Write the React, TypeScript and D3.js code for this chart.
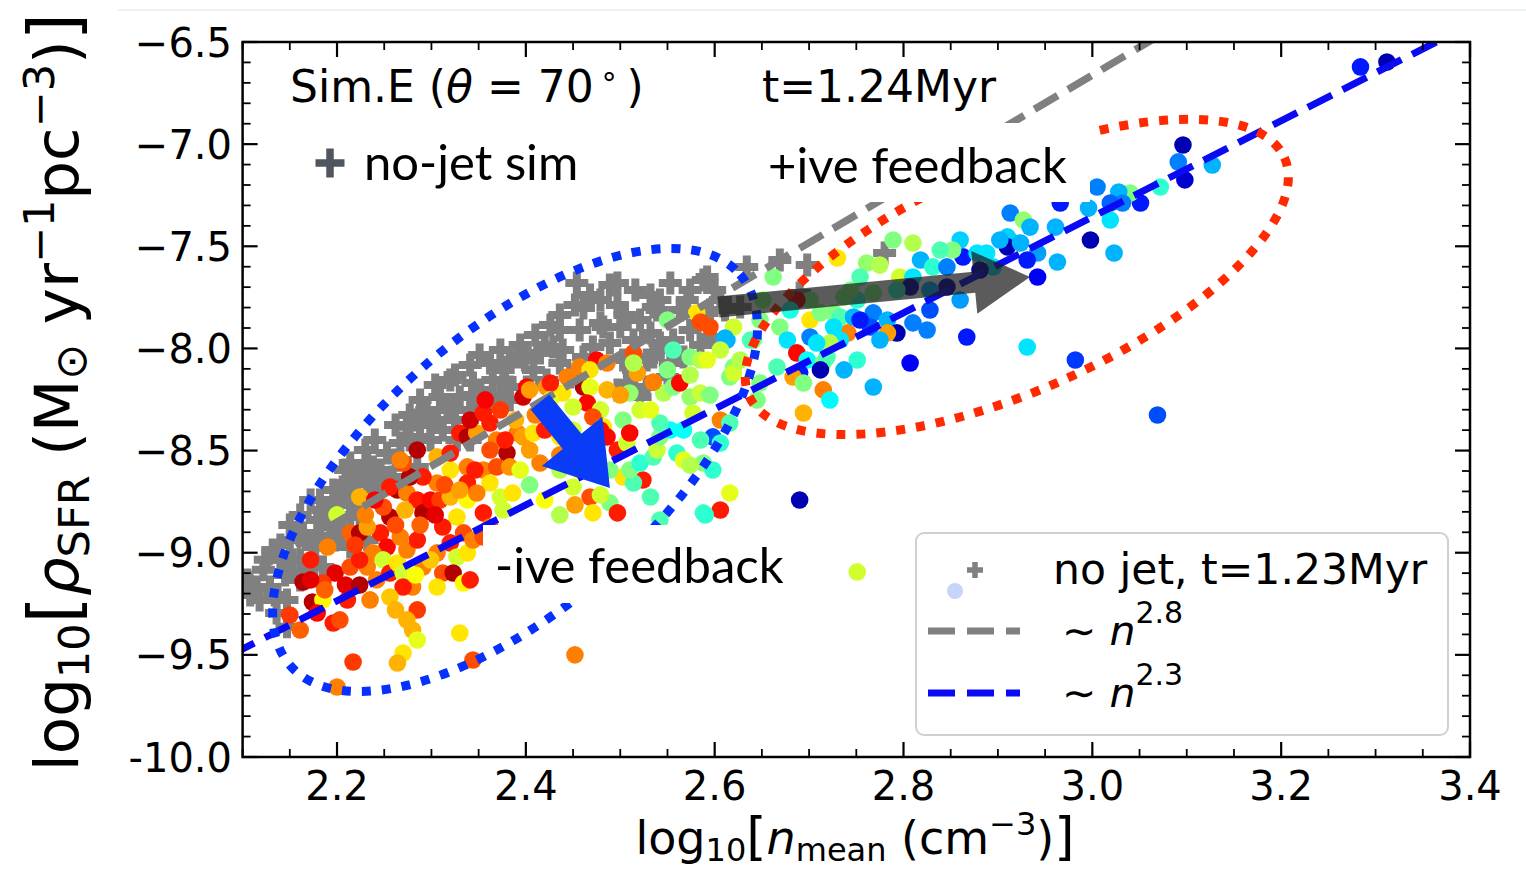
import React from "react";
import * as d3 from "d3";

const W = 1526;
const H = 872;

const xDomain = [2.1, 3.4];
const yDomain = [-10, -6.5];
const xTicks = [2.2, 2.4, 2.6, 2.8, 3.0, 3.2, 3.4];
const xTickLabels = ["2.2", "2.4", "2.6", "2.8", "3.0", "3.2", "3.4"];
const yTicks = [-10, -9.5, -9, -8.5, -8, -7.5, -7, -6.5];
const yTickLabels = ["-10.0", "−9.5", "−9.0", "−8.5", "−8.0", "−7.5", "−7.0", "−6.5"];

// no-jet simulation (grey plus markers): [log n, log rho]
const noJetPoints: [number, number][] = [
  [2.454,-7.680],[2.497,-7.680],[2.553,-7.680],[2.588,-7.665],[2.461,-7.802],[2.497,-7.787],[2.535,-7.797],[2.457,-7.910],
  [2.482,-7.895],[2.500,-7.895],[2.571,-7.763],[2.592,-7.826],[2.598,-7.944],[2.471,-7.993],[2.514,-7.959],[2.532,-7.924],
  [2.556,-7.959],[2.429,-7.993],[2.415,-8.022],[2.436,-8.071],[2.461,-8.042],[2.391,-8.042],[2.362,-8.071],[2.376,-8.105],
  [2.408,-8.105],[2.457,-8.105],[2.514,-8.105],[2.535,-8.042],[2.553,-8.071],[2.567,-8.042],[2.344,-8.169],[2.365,-8.154],
  [2.330,-8.238],[2.351,-8.203],[2.309,-8.238],[2.317,-8.301],[2.295,-8.301],[2.285,-8.350],[2.312,-8.399],[2.267,-8.463],
  [2.288,-8.433],[2.507,-8.169],[2.528,-8.189],[2.550,-8.140],[2.497,-8.203],[2.521,-8.238],[2.253,-8.512],[2.232,-8.561],
  [2.246,-8.595],[2.224,-8.629],[2.211,-8.659],[2.196,-8.693],[2.203,-8.756],[2.185,-8.791],[2.238,-8.659],[2.256,-8.659],
  [2.221,-8.727],[2.179,-8.840],[2.401,-8.189],[2.383,-8.189],[2.422,-8.154],[2.447,-8.140],[2.291,-8.316],[2.306,-8.350],
  [2.320,-8.287],[2.238,-8.580],[2.214,-8.561],[2.206,-8.678],[2.214,-8.742],[2.235,-8.708],[2.193,-8.805],[2.164,-8.903],
  [2.150,-8.938],[2.132,-8.987],[2.140,-9.035],[2.122,-9.084],[2.129,-9.168],[2.153,-9.035],[2.175,-8.972],[2.189,-8.952],
  [2.193,-8.874],[2.203,-8.923],[2.224,-8.825],[2.232,-8.938],[2.185,-9.070],[2.168,-9.099],[2.147,-9.231],[2.214,-8.972],
  [2.136,-9.295],[2.147,-9.363],[2.115,-9.168],[2.274,-8.384],[2.259,-8.629],[2.285,-8.580],[2.299,-8.448],[2.327,-8.448],
  [2.338,-8.350],[2.105,-9.133],[2.182,-8.742],[2.634,-7.601],[2.439,-8.008],[2.383,-8.057],[2.489,-7.973],[2.542,-7.973],
  [2.556,-8.008],[2.528,-8.057],[2.503,-8.057],[2.563,-7.812],[2.539,-7.812],[2.479,-7.875],[2.592,-7.650],[2.669,-7.567],
  [2.698,-7.592],[2.780,-7.533],[2.595,-7.812],[2.627,-7.797],[2.690,-7.729],[2.606,-7.763],[2.341,-8.301],[2.362,-8.252],
  [2.383,-8.252],[2.320,-8.154],[2.373,-8.228],[2.325,-8.350],[2.341,-8.448],[2.267,-8.546],
  [2.161,-8.815],[2.172,-8.742],[2.150,-8.864],[2.140,-8.962],[2.124,-9.035],[2.161,-9.035],[2.182,-8.938],[2.198,-8.864],
  [2.219,-8.766],[2.209,-8.595],[2.230,-8.497],[2.240,-8.448],[2.262,-8.375],[2.277,-8.326],[2.288,-8.252],[2.304,-8.179],
  [2.325,-8.130],[2.341,-8.081],[2.351,-8.032],[2.373,-8.008],[2.394,-7.983],[2.410,-7.934],[2.426,-7.885],[2.436,-7.836],
  [2.452,-7.787],[2.468,-7.738],[2.479,-7.763],[2.489,-7.689],[2.516,-7.714],[2.532,-7.738],[2.542,-7.763],[2.574,-7.714],
  [2.600,-7.714],[2.611,-7.812],[2.585,-7.983],[2.574,-7.910],[2.521,-7.861],[2.505,-7.836],[2.436,-7.910],[2.420,-7.983],
  [2.399,-8.057],[2.378,-8.154],[2.346,-8.228],[2.325,-8.301],[2.299,-8.375],[2.277,-8.448],[2.262,-8.546],[2.240,-8.693],
  [2.214,-8.815],[2.198,-8.938],[2.177,-9.035],[2.161,-9.133],[2.145,-9.109],[2.134,-9.207],[2.118,-9.231],[2.108,-9.207],
];

// jet simulation (coloured dots): [log n, log rho, colour value 0..1]
const jetPoints: [number, number, number][] = [
  [2.224,-8.727,0.70],[2.200,-8.815,0.58],[2.190,-8.972,0.75],[2.164,-9.143,0.95],[2.174,-9.241,0.95],[2.185,-9.231,0.63],
  [2.196,-9.344,0.85],[2.161,-9.378,0.78],[2.179,-9.295,0.87],[2.198,-9.099,0.90],[2.185,-9.148,0.82],[2.211,-9.231,0.85],
  [2.214,-9.070,0.80],[2.232,-9.070,0.75],[2.214,-8.903,0.78],[2.224,-8.903,0.95],[2.246,-8.903,0.85],[2.253,-8.972,0.87],
  [2.238,-9.001,0.75],[2.249,-9.035,0.58],[2.224,-9.035,0.85],[2.242,-9.133,0.75],[2.256,-9.099,0.85],[2.264,-9.050,0.65],
  [2.274,-8.987,0.75],[2.285,-8.938,0.85],[2.267,-8.923,0.75],[2.256,-8.825,0.95],[2.249,-8.776,0.80],[2.232,-8.874,0.72],
  [2.264,-8.693,0.95],[2.256,-8.678,0.85],[2.274,-8.708,0.75],[2.285,-8.742,0.85],[2.291,-8.805,0.95],[2.299,-8.742,0.87],
  [2.309,-8.742,0.82],[2.306,-8.659,0.75],[2.291,-8.629,0.85],[2.277,-8.629,0.95],[2.270,-8.561,0.80],[2.285,-8.497,0.95],
  [2.267,-8.546,0.75],[2.306,-8.531,0.70],[2.320,-8.595,0.65],[2.320,-8.512,0.85],[2.338,-8.580,0.75],[2.330,-8.414,0.85],
  [2.338,-8.433,0.95],[2.348,-8.414,0.72],[2.362,-8.365,0.85],[2.341,-8.350,0.92],[2.355,-8.316,0.85],[2.369,-8.448,0.75],
  [2.380,-8.512,0.95],[2.391,-8.414,0.75],[2.397,-8.433,0.72],[2.408,-8.414,0.65],[2.355,-8.595,0.75],[2.369,-8.580,0.80],
  [2.383,-8.580,0.73],[2.362,-8.659,0.65],[2.338,-8.659,0.85],[2.320,-8.727,0.70],[2.338,-8.742,0.63],[2.348,-8.708,0.75],
  [2.373,-8.727,0.58],[2.386,-8.708,0.65],[2.376,-8.791,0.58],[2.355,-8.805,0.85],[2.327,-8.825,0.65],[2.312,-8.874,0.85],
  [2.334,-8.903,0.80],[2.320,-8.952,0.85],[2.327,-9.021,0.58],[2.338,-9.001,0.65],[2.344,-8.938,0.75],[2.355,-8.923,0.80],
  [2.362,-8.874,0.75],[2.306,-9.001,0.75],[2.291,-9.070,0.75],[2.312,-9.099,0.80],[2.323,-9.099,0.95],[2.334,-9.148,0.63],
  [2.341,-9.133,0.85],[2.306,-9.168,0.65],[2.280,-9.168,0.75],[2.270,-9.099,0.58],[2.270,-9.168,0.85],[2.256,-9.217,0.68],
  [2.235,-9.231,0.75],[2.285,-9.280,0.82],[2.274,-9.329,0.70],[2.280,-9.378,0.70],[2.285,-9.427,0.60],[2.330,-9.393,0.65],
  [2.270,-9.491,0.65],[2.264,-9.540,0.70],[2.217,-9.535,0.82],[2.344,-9.525,0.80],[2.200,-9.657,0.75],[2.452,-9.500,0.75],
  [2.475,-8.057,0.87],[2.486,-8.071,0.75],[2.514,-8.022,0.80],[2.444,-8.140,0.75],[2.422,-8.189,0.73],[2.401,-8.189,0.87],
  [2.397,-8.238,0.92],[2.461,-8.189,0.95],[2.468,-8.189,0.60],[2.486,-8.203,0.70],[2.465,-8.267,0.87],[2.450,-8.287,0.58],
  [2.457,-8.091,0.75],[2.468,-8.105,0.65],[2.439,-8.218,0.65],[2.426,-8.169,0.85],[2.404,-8.203,0.72],[2.479,-8.301,0.58],
  [2.471,-8.336,0.80],[2.482,-8.384,0.65],[2.450,-8.399,0.58],[2.436,-8.433,0.65],[2.479,-8.399,0.87],[2.450,-8.497,0.58],
  [2.497,-8.497,0.85],[2.486,-8.433,0.87],[2.507,-8.463,0.58],[2.415,-8.561,0.75],[2.436,-8.595,0.55],[2.450,-8.678,0.58],
  [2.468,-8.727,0.80],[2.471,-8.805,0.65],[2.489,-8.756,0.50],[2.497,-8.805,0.85],[2.503,-8.629,0.65],[2.524,-8.644,0.85],
  [2.532,-8.727,0.45],[2.514,-8.659,0.45],[2.510,-8.595,0.50],[2.521,-8.561,0.42],[2.535,-8.531,0.45],[2.539,-8.497,0.57],
  [2.542,-8.433,0.50],[2.553,-8.399,0.38],[2.542,-8.365,0.45],[2.560,-8.512,0.42],[2.567,-8.546,0.60],[2.598,-8.433,0.20],
  [2.606,-8.463,0.42],[2.588,-8.561,0.50],[2.598,-8.595,0.42],[2.616,-8.708,0.60],[2.606,-8.791,0.85],[2.588,-8.805,0.43],
  [2.606,-8.350,0.75],[2.616,-8.365,0.45],[2.567,-8.399,0.38],[2.521,-8.301,0.58],[2.503,-8.350,0.50],[2.510,-8.414,0.87],
  [2.510,-8.218,0.52],[2.546,-8.218,0.55],[2.556,-8.189,0.50],[2.563,-8.169,0.87],[2.574,-8.238,0.52],[2.585,-8.218,0.57],
  [2.577,-8.316,0.58],[2.518,-8.120,0.72],[2.535,-8.164,0.75],[2.550,-8.105,0.50],[2.556,-8.008,0.45],[2.574,-8.042,0.50],
  [2.585,-8.057,0.55],[2.620,-8.091,0.50],[2.616,-8.140,0.50],[2.550,-7.861,0.50],[2.581,-7.826,0.65],[2.585,-7.871,0.80],
  [2.613,-7.959,0.30],[2.620,-7.895,0.58],[2.662,-7.650,0.50],[2.514,-8.071,0.55],[2.542,-8.840,0.45],[2.590,-8.815,0.42],
  [2.751,-9.094,0.58],[2.690,-8.742,0.05],
  [2.595,-7.895,0.80],[2.611,-7.949,0.30],[2.651,-7.763,0.50],[2.730,-7.557,0.65],[2.761,-7.582,0.52],[2.754,-7.650,0.45],
  [2.789,-7.469,0.50],[2.810,-7.484,0.55],[2.818,-7.567,0.30],[2.796,-7.650,0.58],[2.810,-7.650,0.35],[2.831,-7.601,0.42],
  [2.846,-7.601,0.25],[2.863,-7.552,0.15],[2.860,-7.469,0.33],[2.852,-7.518,0.50],[2.878,-7.533,0.35],[2.888,-7.533,0.35],
  [2.895,-7.601,0.35],[2.913,-7.337,0.25],[2.927,-7.371,0.52],[2.934,-7.406,0.30],[2.910,-7.454,0.33],[2.910,-7.503,0.05],
  [2.924,-7.484,0.30],[2.942,-7.533,0.28],[2.931,-7.567,0.15],[2.942,-7.650,0.12],[2.807,-7.699,0.05],[2.846,-7.699,0.05],
  [2.881,-7.616,0.05],[2.793,-7.714,0.42],[2.768,-7.729,0.50],[2.751,-7.763,0.42],[2.737,-7.748,0.50],[2.701,-7.763,0.50],
  [2.687,-7.763,0.90],[2.641,-7.959,0.50],[2.669,-7.895,0.50],[2.677,-7.959,0.35],[2.701,-7.861,0.65],[2.712,-7.826,0.50],
  [2.726,-7.826,0.50],[2.733,-7.846,0.45],[2.741,-7.924,0.75],[2.747,-7.846,0.30],[2.726,-7.895,0.35],[2.733,-7.959,0.35],
  [2.722,-7.973,0.55],[2.701,-7.944,0.25],[2.708,-7.973,0.35],[2.687,-8.022,0.87],[2.698,-8.057,0.38],[2.715,-8.071,0.50],
  [2.719,-8.042,0.45],[2.751,-8.057,0.42],[2.737,-8.105,0.30],[2.712,-8.105,0.05],[2.690,-8.120,0.15],[2.683,-8.140,0.72],
  [2.694,-8.169,0.50],[2.715,-8.203,0.75],[2.648,-8.169,0.50],[2.645,-8.252,0.50],[2.620,-8.120,0.58],[2.606,-8.008,0.57],
  [2.592,-8.057,0.60],[2.768,-7.826,0.25],[2.783,-7.861,0.30],[2.765,-7.895,0.20],[2.793,-7.924,0.05],[2.810,-7.875,0.25],
  [2.825,-7.910,0.25],[2.828,-7.812,0.20],[2.783,-7.924,0.72],[2.807,-8.071,0.12],[2.867,-7.944,0.15],[2.931,-7.993,0.35],
  [2.768,-8.189,0.30],[2.722,-8.252,0.37],[2.694,-8.316,0.70],[2.982,-8.057,0.18],[3.069,-8.326,0.20],[2.666,-8.091,0.45],
  [3.284,-6.622,0.15],[3.312,-6.598,0.05],[3.096,-7.004,0.05],[3.091,-7.087,0.25],[3.127,-7.102,0.30],[3.098,-7.175,0.08],
  [3.072,-7.210,0.42],[3.051,-7.288,0.15],[3.040,-7.239,0.50],[3.028,-7.234,0.30],[3.032,-7.288,0.25],[3.019,-7.288,0.22],
  [3.019,-7.371,0.35],[3.005,-7.210,0.25],[2.996,-7.313,0.30],[2.966,-7.288,0.15],[2.961,-7.406,0.30],[2.998,-7.469,0.05],
  [3.023,-7.533,0.30],[2.963,-7.577,0.30],[2.902,-7.469,0.30],
  [2.172,-9.035,0.85],[2.187,-9.182,0.78],[2.209,-9.158,0.90],[2.219,-8.962,0.82],[2.230,-8.815,0.75],[2.240,-8.742,0.88],
  [2.262,-8.864,0.80],[2.272,-8.791,0.70],[2.288,-8.864,0.78],[2.304,-8.815,0.90],[2.314,-8.668,0.80],[2.330,-8.693,0.72],
  [2.346,-8.595,0.85],[2.362,-8.497,0.80],[2.378,-8.448,0.85],[2.389,-8.350,0.70],[2.373,-8.301,0.82],[2.357,-8.252,0.88],
  [2.410,-8.326,0.75],[2.426,-8.252,0.60],[2.420,-8.399,0.85],[2.404,-8.497,0.72],[2.394,-8.595,0.60],[2.404,-8.668,0.50],
  [2.420,-8.742,0.62],[2.436,-8.815,0.55],[2.452,-8.766,0.72],[2.479,-8.717,0.58],[2.299,-9.035,0.68],[2.283,-9.109,0.62],
  [2.262,-9.280,0.70],[2.203,-9.329,0.80],[2.224,-9.158,0.95],[2.150,-9.305,0.82],[2.172,-9.133,0.90],[2.436,-8.521,0.75],
  [2.457,-8.595,0.65],[2.489,-8.595,0.50],[2.500,-8.228,0.72],[2.532,-8.301,0.60],[2.574,-8.130,0.55],[2.595,-8.228,0.50],
  [2.585,-8.448,0.45],[2.574,-8.571,0.55],[2.627,-8.057,0.55],[2.638,-7.959,0.45],[2.648,-7.861,0.50],[2.680,-7.812,0.40],
  [2.744,-7.714,0.50],[2.775,-7.592,0.55],[2.828,-7.714,0.30],[2.860,-7.763,0.28],[2.839,-7.518,0.45],[2.775,-7.959,0.30],
  [2.754,-7.861,0.15],
];

// power-law fits: log rho = slope * log n + intercept
const fitLabels = ["2.8", "2.3"];
const fitSlopes = [2.735, 2.35];
const fitIntercepts = [-14.867, -14.406];
const fitColors = ["#808080", "#0a0af5"];

const PLOT = { left: 242.6, right: 1470, top: 42, bottom: 757 };

function jet(t: number): string {
  const c = (v: number) => Math.max(0, Math.min(1, v));
  const r = c(Math.min(4 * t - 1.5, -4 * t + 4.5));
  const g = c(Math.min(4 * t - 0.5, -4 * t + 3.5));
  const b = c(Math.min(4 * t + 0.5, -4 * t + 2.5));
  return d3.rgb(r * 255, g * 255, b * 255).formatHex();
}

function plusPath(cx: number, cy: number, h: number, t: number): string {
  const a = t / 2;
  return `M${cx - a},${cy - h}H${cx + a}V${cy - a}H${cx + h}V${cy + a}H${cx + a}V${cy + h}H${cx - a}V${cy + a}H${cx - h}V${cy - a}H${cx - a}Z`;
}

function arrowPoints(x1: number, y1: number, x2: number, y2: number, sw: number, hw: number, hl: number): string {
  const dx = x2 - x1, dy = y2 - y1;
  const L = Math.hypot(dx, dy);
  const ux = dx / L, uy = dy / L;
  const px = -uy, py = ux;
  const bx = x2 - ux * hl, by = y2 - uy * hl;
  const pts = [
    [x1 + px * sw / 2, y1 + py * sw / 2],
    [bx + px * sw / 2, by + py * sw / 2],
    [bx + px * hw / 2, by + py * hw / 2],
    [x2, y2],
    [bx - px * hw / 2, by - py * hw / 2],
    [bx - px * sw / 2, by - py * sw / 2],
    [x1 - px * sw / 2, y1 - py * sw / 2],
  ];
  return pts.map((p) => p.join(",")).join(" ");
}

export default function App() {
  const x = d3.scaleLinear().domain(xDomain).range([PLOT.left, PLOT.right]);
  const y = d3.scaleLinear().domain(yDomain).range([PLOT.bottom, PLOT.top]);

  const xMinor = d3.range(2.1, 3.4001, 0.05).filter((v) => !xTicks.some((t) => Math.abs(t - v) < 1e-6));
  const yMinor = d3.range(-10, -6.5 + 1e-6, 0.1).filter((v) => !yTicks.some((t) => Math.abs(t - v) < 1e-6));

  const fitPath = (k: number) => {
    const xs = [2.05, 3.45];
    return d3.line<number>().x((d) => x(d)).y((d) => y(fitSlopes[k] * d + fitIntercepts[k]))(xs) || "";
  };

  const tickFont = "'DejaVu Sans', sans-serif";
  const gill = "Lato, 'Open Sans', sans-serif";

  const blueEll = { cx: x(2.3886), cy: y(-8.595), rx: 298, ry: 138, rot: -41 };
  const redEll = { cx: x(2.920), cy: y(-7.65), rx: 293, ry: 113, rot: -24 };

  const blueArrow = arrowPoints(x(2.415), y(-8.262), x(2.489), y(-8.683), 24, 78, 60);
  const greyArrow = arrowPoints(x(2.604), y(-7.797), x(2.934), y(-7.650), 21, 63, 56);

  return (
    <svg width={W} height={H} style={{ position: "absolute", left: 0, top: 0, background: "#fff" }}>
      <defs>
        <clipPath id="plotclip">
          <rect x={PLOT.left} y={PLOT.top} width={PLOT.right - PLOT.left} height={PLOT.bottom - PLOT.top} />
        </clipPath>
      </defs>
      <rect x={0} y={0} width={W} height={H} fill="#fff" />
      <line x1={118} x2={W} y1={10} y2={10} stroke="#e2eff2" strokeWidth={1.5} />

      <g clipPath="url(#plotclip)">
        {noJetPoints.map((p, i) => (
          <path key={"g" + i} d={plusPath(x(p[0]), y(p[1]), 11.5, 8)} fill="#808080" />
        ))}
        {jetPoints.map((p, i) => (
          <circle key={"j" + i} cx={x(p[0])} cy={y(p[1])} r={8.8} fill={jet(p[2])} />
        ))}
        {fitSlopes.map((_, k) => (
          <path key={"f" + k} d={fitPath(k)} fill="none" stroke={fitColors[k]} strokeWidth={k === 0 ? 7.5 : 7} strokeDasharray="27 12" />
        ))}
        <ellipse cx={blueEll.cx} cy={blueEll.cy} rx={blueEll.rx} ry={blueEll.ry}
          transform={`rotate(${blueEll.rot} ${blueEll.cx} ${blueEll.cy})`}
          fill="none" stroke="#0530ff" strokeWidth={9} strokeDasharray="9 11" />
        <ellipse cx={redEll.cx} cy={redEll.cy} rx={redEll.rx} ry={redEll.ry}
          transform={`rotate(${redEll.rot} ${redEll.cx} ${redEll.cy})`}
          fill="none" stroke="#ff2a00" strokeWidth={9} strokeDasharray="9 11" />
        <polygon points={greyArrow} fill="#1c1c1c" fillOpacity={0.72} />
        <polygon points={blueArrow} fill="#0a3cf8" />
      </g>

      <rect x={760} y={123} width={330} height={79} fill="#fff" />
      <text x={768} y={183} fontFamily={gill} fontSize={49} fill="#000">+ive feedback</text>
      <rect x={483} y={525} width={307} height={78} fill="#fff" />
      <text x={495} y={583} fontFamily={gill} fontSize={49} fill="#000">-ive feedback</text>

      <text x={290} y={102} fontFamily={tickFont} fontSize={44} fill="#000">
        Sim.E (<tspan fontStyle="italic">θ</tspan> = 70<tspan dx={6} dy={-16} fontSize={30}>∘</tspan><tspan dx={8} dy={16}>)</tspan>
      </text>
      <text x={762} y={102} fontFamily={tickFont} fontSize={44} fill="#000">t=1.24Myr</text>
      <path d={plusPath(330, 163, 14.5, 7.5)} fill="#50565e" />
      <text x={364} y={180} fontFamily={gill} fontSize={49} fill="#000">no-jet sim</text>

      <rect x={916} y={533} width={532} height={202} rx={8} fill="#fff" fillOpacity={0.85} stroke="#d0d0d0" strokeWidth={2} />
      <circle cx={955} cy={591} r={8} fill="#c7d5fb" />
      <path d={plusPath(975, 570, 8, 5.5)} fill="#808080" />
      <text x={1053} y={584} fontFamily={tickFont} fontSize={42.5} fill="#000">no jet, t=1.23Myr</text>
      {fitLabels.map((lab, k) => (
        <g key={"l" + k}>
          <line x1={928} x2={1020} y1={631 + k * 62} y2={631 + k * 62} stroke={fitColors[k]} strokeWidth={7}
            strokeDasharray="27 12" />
          <text x={1062} y={645 + k * 62} fontFamily={tickFont} fontSize={41} fill="#000">
            ∼ <tspan fontStyle="italic">n</tspan><tspan dy={-22} fontSize={30}>{lab}</tspan>
          </text>
        </g>
      ))}

      <rect x={PLOT.left} y={PLOT.top} width={PLOT.right - PLOT.left} height={PLOT.bottom - PLOT.top}
        fill="none" stroke="#000" strokeWidth={2.5} />
      {xTicks.map((t, i) => (
        <g key={"xt" + i}>
          <line x1={x(t)} x2={x(t)} y1={PLOT.bottom} y2={PLOT.bottom - 15} stroke="#000" strokeWidth={2.2} />
          <line x1={x(t)} x2={x(t)} y1={PLOT.top} y2={PLOT.top + 15} stroke="#000" strokeWidth={2.2} />
          <text x={x(t)} y={800} textAnchor="middle" fontFamily={tickFont} fontSize={40} fill="#000">{xTickLabels[i]}</text>
        </g>
      ))}
      {xMinor.map((t, i) => (
        <g key={"xm" + i}>
          <line x1={x(t)} x2={x(t)} y1={PLOT.bottom} y2={PLOT.bottom - 8} stroke="#000" strokeWidth={1.8} />
          <line x1={x(t)} x2={x(t)} y1={PLOT.top} y2={PLOT.top + 8} stroke="#000" strokeWidth={1.8} />
        </g>
      ))}
      {yTicks.map((t, i) => (
        <g key={"yt" + i}>
          <line x1={PLOT.left} x2={PLOT.left + 15} y1={y(t)} y2={y(t)} stroke="#000" strokeWidth={2.2} />
          <line x1={PLOT.right} x2={PLOT.right - 15} y1={y(t)} y2={y(t)} stroke="#000" strokeWidth={2.2} />
          <text x={232} y={y(t) + 14.5} textAnchor="end" fontFamily={tickFont} fontSize={40} fill="#000">{yTickLabels[i]}</text>
        </g>
      ))}
      {yMinor.map((t, i) => (
        <g key={"ym" + i}>
          <line x1={PLOT.left} x2={PLOT.left + 8} y1={y(t)} y2={y(t)} stroke="#000" strokeWidth={1.8} />
          <line x1={PLOT.right} x2={PLOT.right - 8} y1={y(t)} y2={y(t)} stroke="#000" strokeWidth={1.8} />
        </g>
      ))}

      <text x={855} y={854} textAnchor="middle" fontFamily={tickFont} fontSize={46} fill="#000">
        log<tspan dy={7} fontSize={32}>10</tspan><tspan dy={-7} fontSize={52}>[</tspan><tspan fontStyle="italic">n</tspan><tspan dy={7} fontSize={32}>mean</tspan><tspan dy={-7}> (cm</tspan><tspan dy={-19} fontSize={32}>−3</tspan><tspan dy={19}>)</tspan><tspan fontSize={52}>]</tspan>
      </text>
      <text transform="translate(78,392) rotate(-90)" textAnchor="middle" fontFamily={tickFont} fontSize={61} fill="#000">
        log<tspan dy={11} fontSize={43}>10</tspan><tspan dy={-11} fontSize={70}>[</tspan><tspan fontStyle="italic">ρ</tspan><tspan dy={11} fontSize={43}>SFR</tspan><tspan dy={-11}> (M</tspan><tspan dy={8} fontSize={43}>⊙</tspan><tspan dy={-8}> yr</tspan><tspan dy={-24} fontSize={43}>−1</tspan><tspan dy={24}>pc</tspan><tspan dy={-24} fontSize={43}>−3</tspan><tspan dy={24}>)</tspan><tspan fontSize={70}>]</tspan>
      </text>
    </svg>
  );
}
